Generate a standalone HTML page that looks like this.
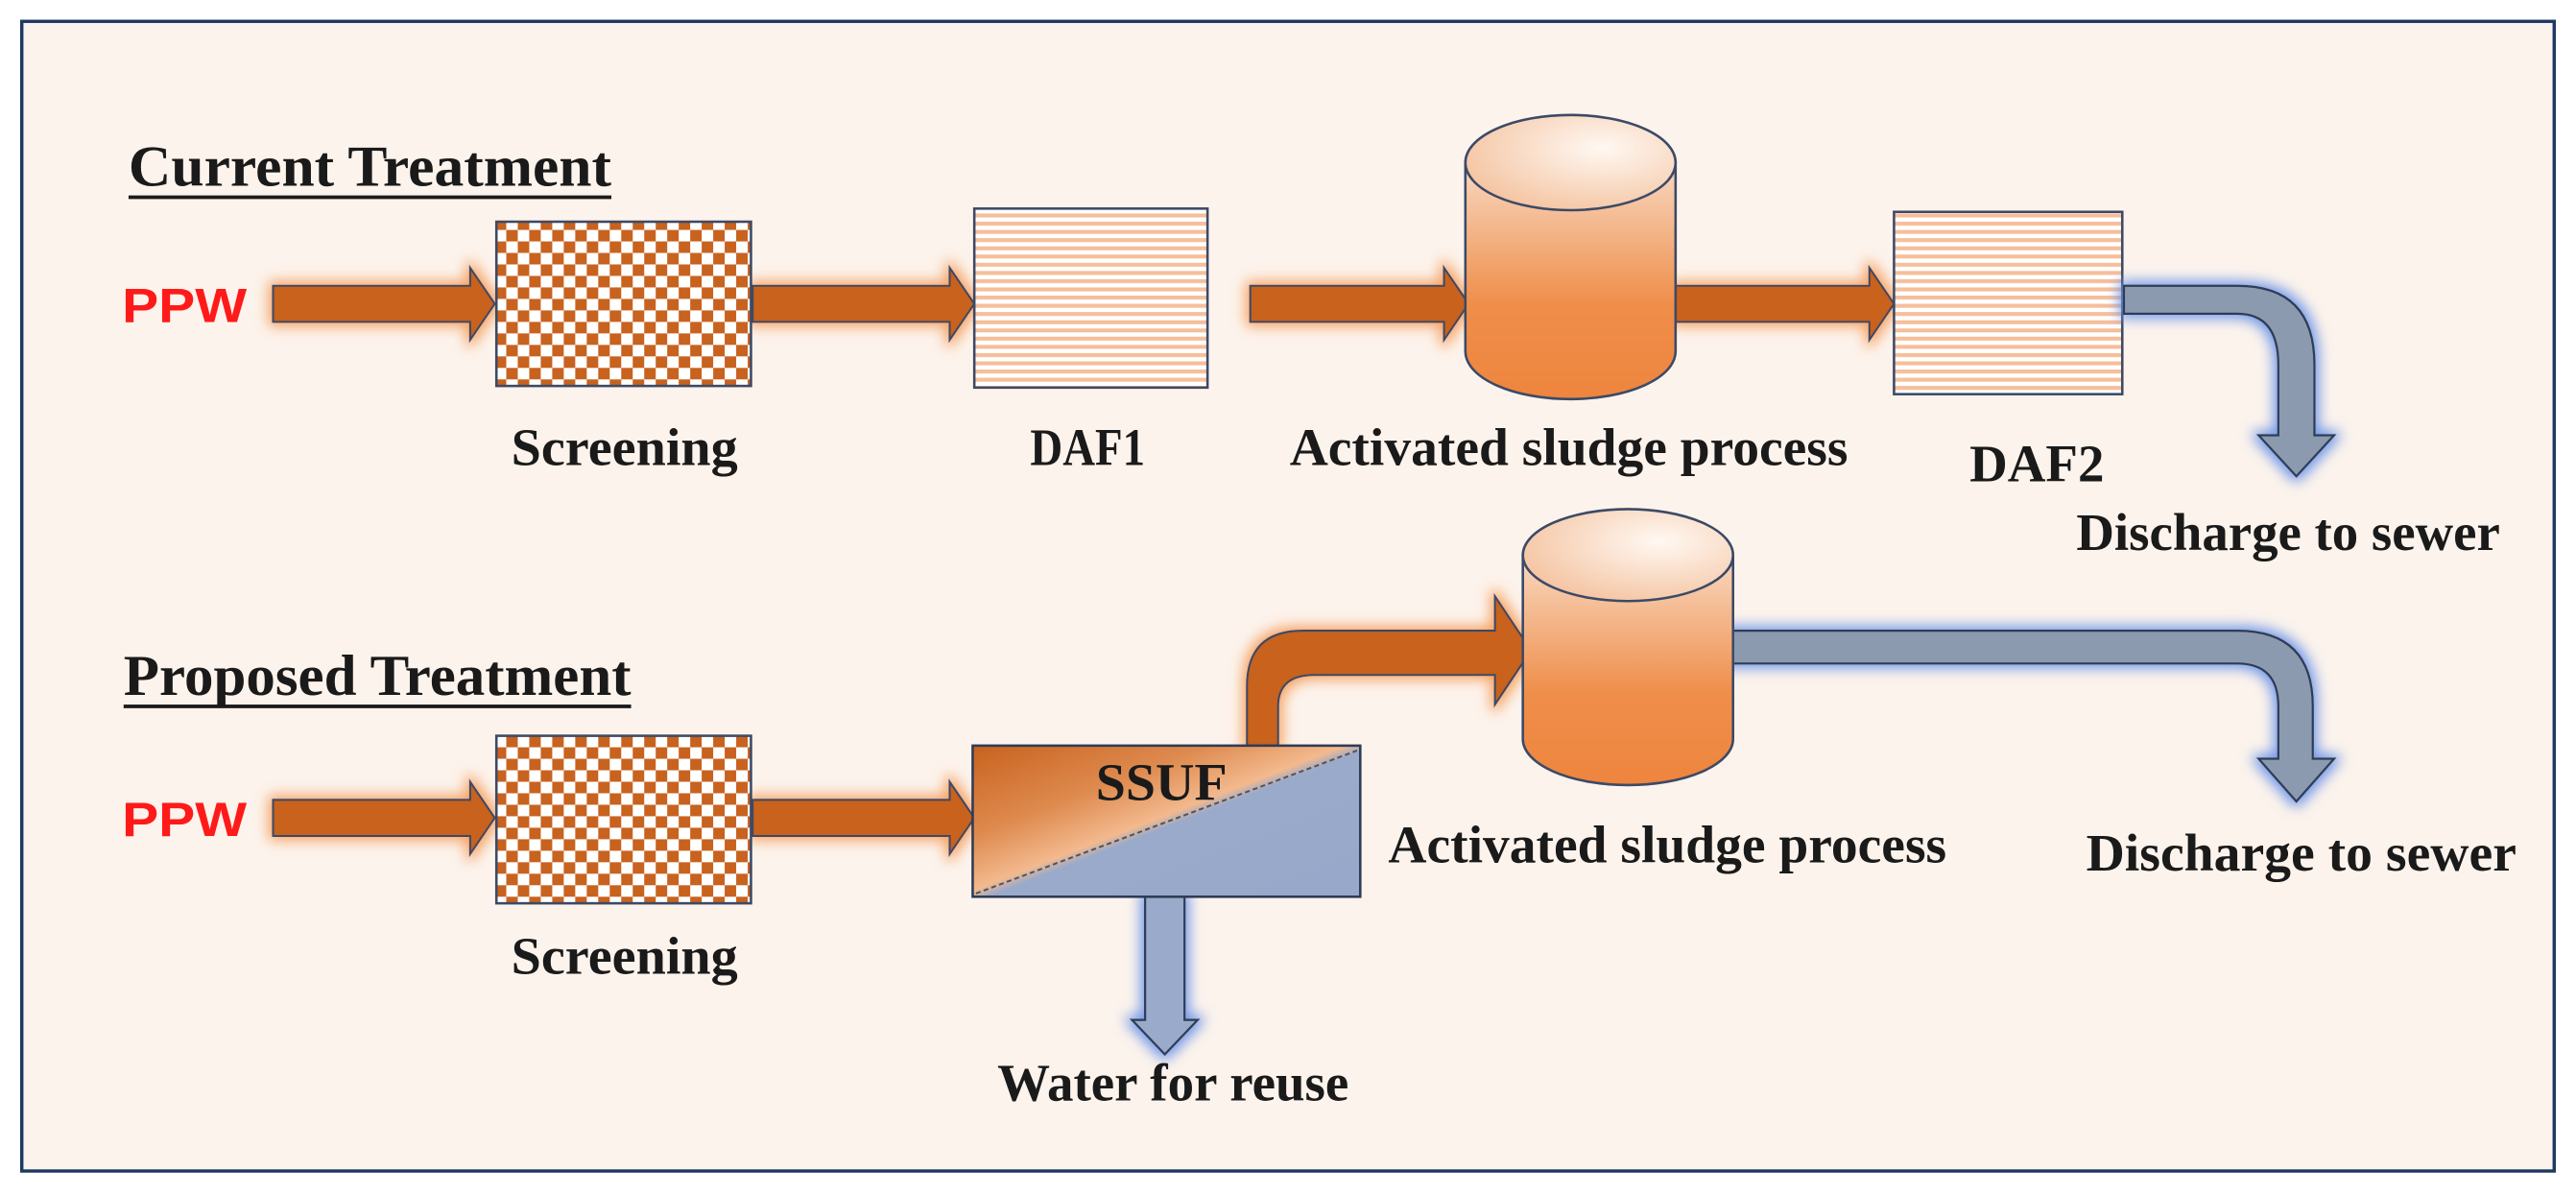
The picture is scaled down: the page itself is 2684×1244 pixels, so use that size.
<!DOCTYPE html>
<html><head><meta charset="utf-8"><style>
html,body{margin:0;padding:0;background:#fff;}
svg{display:block;}
text{font-family:"Liberation Serif",serif;font-weight:bold;fill:#1a1a1a;}
.ppw{font-family:"Liberation Sans",sans-serif;fill:#ff1a1a;}
</style></head><body>
<svg width="2684" height="1244" viewBox="0 0 1568 727" xmlns="http://www.w3.org/2000/svg">
<defs>
<pattern id="chk" width="14" height="14" patternUnits="userSpaceOnUse">
<rect width="14" height="14" fill="#fff"/>
<rect width="7" height="7" fill="#C8621F"/>
<rect x="7" y="7" width="7" height="7" fill="#C8621F"/>
</pattern>
<pattern id="str" width="10" height="5" patternUnits="userSpaceOnUse">
<rect width="10" height="5" fill="#fff"/>
<rect width="10" height="2.4" fill="#F6BE9A"/>
</pattern>
<linearGradient id="cyl" x1="0" y1="0" x2="0" y2="1">
<stop offset="0" stop-color="#F8D9C2"/>
<stop offset="0.6" stop-color="#EF8E4A"/>
<stop offset="1" stop-color="#EE853E"/>
</linearGradient>
<radialGradient id="cylTop" cx="0.65" cy="0.35" r="0.8">
<stop offset="0" stop-color="#FFF8F2"/>
<stop offset="1" stop-color="#F3BE98"/>
</radialGradient>
<linearGradient id="ssuf" x1="0" y1="0" x2="1" y2="1">
<stop offset="0" stop-color="#C8621F"/>
<stop offset="0.3" stop-color="#DE8A4E"/>
<stop offset="0.48" stop-color="#F3B98E"/>
<stop offset="0.52" stop-color="#9AAACB"/>
<stop offset="1" stop-color="#98A8CA"/>
</linearGradient>
<filter id="og" x="-20%" y="-40%" width="140%" height="180%">
<feMorphology in="SourceAlpha" operator="dilate" radius="2" result="d"/>
<feGaussianBlur in="d" stdDeviation="4" result="b"/>
<feFlood flood-color="#F5A060" flood-opacity="1"/>
<feComposite in2="b" operator="in" result="g"/>
<feMerge><feMergeNode in="g"/><feMergeNode in="SourceGraphic"/></feMerge>
</filter>
<filter id="bg" x="-30%" y="-30%" width="160%" height="160%">
<feMorphology in="SourceAlpha" operator="dilate" radius="2" result="d"/>
<feGaussianBlur in="d" stdDeviation="4" result="b"/>
<feFlood flood-color="#6E95E8" flood-opacity="1"/>
<feComposite in2="b" operator="in" result="g"/>
<feMerge><feMergeNode in="g"/><feMergeNode in="SourceGraphic"/></feMerge>
</filter>
</defs>
<rect x="0" y="0" width="1568" height="727" fill="#fff"/>
<rect x="13" y="13" width="1542" height="700" fill="#FCF3EC" stroke="#1F3864" stroke-width="2"/>

<text x="78" y="113" font-size="35" textLength="294" lengthAdjust="spacingAndGlyphs">Current Treatment</text>
<rect x="78" y="119" width="294" height="2.2" fill="#1a1a1a"/>
<text class="ppw" x="74" y="196" font-size="29" textLength="76" lengthAdjust="spacingAndGlyphs">PPW</text>

<g fill="#C8621F" stroke="#3C4A66" stroke-width="1.2" filter="url(#og)">
<path d="M166,174 H286 V163 L301,185 L286,207 V196 H166 Z"/>
<path d="M458,174 H578 V163 L593,185 L578,207 V196 H458 Z"/>
<path d="M761,174 H879 V163 L894,185 L879,207 V196 H761 Z"/>
<path d="M1020,174 H1138 V163 L1153,185 L1138,207 V196 H1020 Z"/>
</g>

<rect x="302" y="135" width="155" height="100" fill="url(#chk)" stroke="#3C4A66" stroke-width="1.5"/>
<text x="380" y="283" font-size="32" text-anchor="middle" textLength="138" lengthAdjust="spacingAndGlyphs">Screening</text>

<rect x="593" y="127" width="142" height="109" fill="url(#str)" stroke="#3C4A66" stroke-width="1.5"/>
<text x="662" y="283" font-size="32" text-anchor="middle" textLength="70" lengthAdjust="spacingAndGlyphs">DAF1</text>

<path d="M892,99 V214 A64,29 0 0 0 1020,214 V99 Z" fill="url(#cyl)" stroke="#3C4A66" stroke-width="1.5"/>
<ellipse cx="956" cy="99" rx="64" ry="29" fill="url(#cylTop)" stroke="#3C4A66" stroke-width="1.5"/>
<text x="955" y="283" font-size="32" text-anchor="middle" textLength="340" lengthAdjust="spacingAndGlyphs">Activated sludge process</text>

<rect x="1153" y="129" width="139" height="111" fill="url(#str)" stroke="#3C4A66" stroke-width="1.5"/>
<text x="1240" y="293" font-size="32" text-anchor="middle" textLength="82" lengthAdjust="spacingAndGlyphs">DAF2</text>

<path d="M1293,174 H1362 Q1409,174 1409,222 V265 H1421 L1398,290 L1375,265 H1387 V222 Q1387,191 1362,191 H1293 Z" fill="#8B9AAF" stroke="#2E3C56" stroke-width="1.3" filter="url(#bg)"/>
<text x="1393" y="335" font-size="32" text-anchor="middle" textLength="258" lengthAdjust="spacingAndGlyphs">Discharge to sewer</text>

<text x="75" y="423" font-size="35" textLength="309" lengthAdjust="spacingAndGlyphs">Proposed Treatment</text>
<rect x="75" y="429" width="309" height="2.2" fill="#1a1a1a"/>
<text class="ppw" x="74" y="509" font-size="29" textLength="76" lengthAdjust="spacingAndGlyphs">PPW</text>

<g fill="#C8621F" stroke="#3C4A66" stroke-width="1.2" filter="url(#og)">
<path d="M166,487 H286 V476 L301,498 L286,520 V509 H166 Z"/>
<path d="M458,487 H578 V476 L593,498 L578,520 V509 H458 Z"/>
<path d="M759,454 V418 Q759,384 793,384 H910 V363 L932,396 L910,429 V411 H800 Q778,411 778,430 V454 Z"/>
</g>

<rect x="302" y="448" width="155" height="102" fill="url(#chk)" stroke="#3C4A66" stroke-width="1.5"/>
<text x="380" y="593" font-size="32" text-anchor="middle" textLength="138" lengthAdjust="spacingAndGlyphs">Screening</text>

<path d="M697,546 V621 H689 L709,642 L729,621 H721 V546 Z" fill="#9AAACB" stroke="#2E3C56" stroke-width="1.3" filter="url(#bg)"/>
<rect x="592" y="454" width="236" height="92" fill="url(#ssuf)" stroke="#2E3C56" stroke-width="1.5"/>
<line x1="594" y1="544" x2="826" y2="457" stroke="#555" stroke-width="1.2" stroke-dasharray="3,2"/>
<text x="707" y="487" font-size="32" text-anchor="middle" textLength="80" lengthAdjust="spacingAndGlyphs">SSUF</text>
<text x="714" y="670" font-size="32" text-anchor="middle" textLength="214" lengthAdjust="spacingAndGlyphs">Water for reuse</text>

<path d="M1050,384 H1362 Q1408,384 1408,430 V462 H1421 L1398,488 L1375,462 H1387 V430 Q1387,404 1362,404 H1050 Z" fill="#8B9AAF" stroke="#2E3C56" stroke-width="1.3" filter="url(#bg)"/>

<path d="M927,338 V450 A64,28 0 0 0 1055,450 V338 Z" fill="url(#cyl)" stroke="#3C4A66" stroke-width="1.5"/>
<ellipse cx="991" cy="338" rx="64" ry="28" fill="url(#cylTop)" stroke="#3C4A66" stroke-width="1.5"/>
<text x="1015" y="525" font-size="32" text-anchor="middle" textLength="340" lengthAdjust="spacingAndGlyphs">Activated sludge process</text>
<text x="1401" y="530" font-size="32" text-anchor="middle" textLength="262" lengthAdjust="spacingAndGlyphs">Discharge to sewer</text>
</svg>
</body></html>
